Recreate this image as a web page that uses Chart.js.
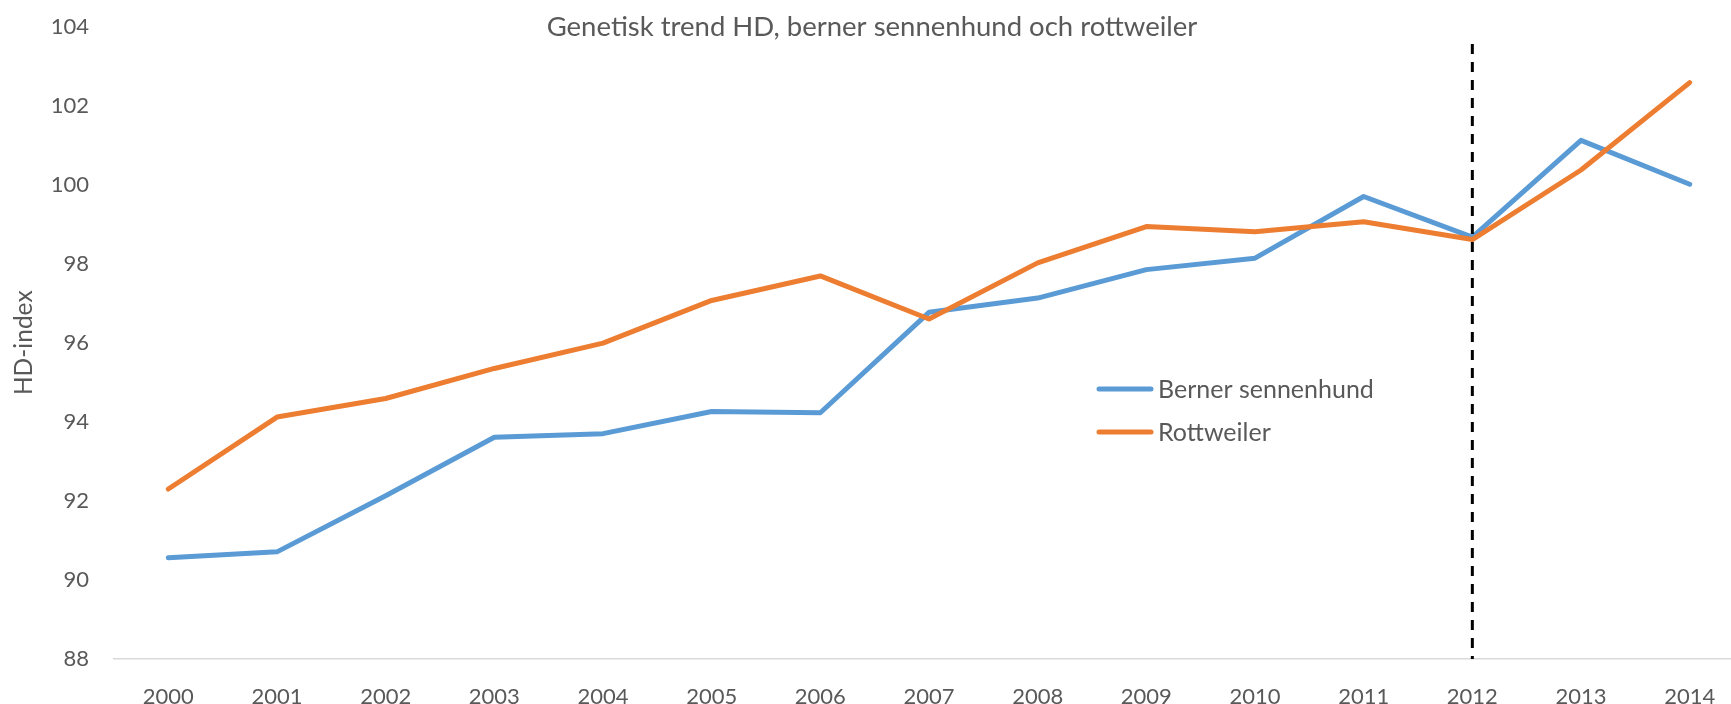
<!DOCTYPE html>
<html>
<head>
<meta charset="utf-8">
<script src="https://cdn.jsdelivr.net/npm/chart.js@4"></script>
<style>
  html, body { margin: 0; padding: 0; background: #ffffff; overflow: hidden; }
  #wrap { position: absolute; left: 0; top: 0; width: 1745px; height: 720px; }
  canvas { display: block; }
</style>
</head>
<body>
<div id="wrap"><canvas id="c" width="1745" height="720" style="width:1745px;height:720px"></canvas></div>
<script>
const chartTitle = 'Genetisk trend HD, berner sennenhund och rottweiler';
const yAxisTitle = 'HD-index';
const years = ['2000','2001','2002','2003','2004','2005','2006','2007','2008','2009','2010','2011','2012','2013','2014'];
const bernerLabel = 'Berner sennenhund';
const bernerValues = [90.56, 90.71, 92.13, 93.61, 93.70, 94.26, 94.23, 96.77, 97.13, 97.85, 98.14, 99.70, 98.67, 101.12, 100.01];
const rottweilerLabel = 'Rottweiler';
const rottweilerValues = [92.30, 94.12, 94.59, 95.35, 95.99, 97.07, 97.69, 96.60, 98.02, 98.94, 98.81, 99.06, 98.61, 100.37, 102.58];
const yTicks = [88, 90, 92, 94, 96, 98, 100, 102, 104];
const markerYear = '2012';
const markerRange = [103.56, 88];

const TEXT = '#595959';
const FONT = 'Lato, "Open Sans", sans-serif';

const overlayPlugin = {
  id: 'overlay',
  afterDraw(chart) {
    const ctx = chart.ctx;
    ctx.save();
    // title
    ctx.fillStyle = TEXT;
    ctx.font = '27.5px ' + FONT;
    ctx.textAlign = 'center';
    ctx.textBaseline = 'middle';
    ctx.fillText(chartTitle, 872, 27);
    // legend
    const items = chart.data.datasets.filter(d => d.inLegend);
    ctx.font = '25px ' + FONT;
    ctx.textAlign = 'left';
    items.forEach((d, i) => {
      const y = 389 + i * 43;
      ctx.strokeStyle = d.borderColor;
      ctx.lineWidth = 5;
      ctx.lineCap = 'round';
      ctx.beginPath();
      ctx.moveTo(1099, y);
      ctx.lineTo(1151, y);
      ctx.stroke();
      ctx.fillStyle = TEXT;
      ctx.fillText(d.label, 1158, y + 1);
    });
    ctx.restore();
  }
};

new Chart(document.getElementById('c'), {
  type: 'line',
  data: {
    labels: years,
    datasets: [
      {
        label: bernerLabel, inLegend: true, data: bernerValues,
        borderColor: '#5B9BD5', borderWidth: 5, pointRadius: 0,
        borderCapStyle: 'round', borderJoinStyle: 'round', tension: 0, order: 3
      },
      {
        label: rottweilerLabel, inLegend: true, data: rottweilerValues,
        borderColor: '#ED7D31', borderWidth: 5, pointRadius: 0,
        borderCapStyle: 'round', borderJoinStyle: 'round', tension: 0, order: 2
      },
      {
        label: 'marker', inLegend: false,
        data: markerRange.map(v => ({ x: markerYear, y: v })),
        borderColor: '#000000', borderWidth: 3, borderDash: [10, 8], pointRadius: 0,
        borderCapStyle: 'butt', order: 1
      }
    ]
  },
  options: {
    responsive: false,
    animation: false,
    devicePixelRatio: 1,
    layout: { padding: { top: 26.5, right: 1, left: 0, bottom: 0 } },
    plugins: {
      legend: { display: false },
      title: { display: false },
      tooltip: { enabled: false }
    },
    scales: {
      x: {
        type: 'category',
        offset: true,
        grid: { display: false, drawTicks: false },
        border: { display: true, color: '#D9D9D9', width: 1.5 },
        ticks: { color: TEXT, font: { family: FONT, size: 22 }, padding: 25, maxRotation: 0, autoSkip: false },
        afterFit(scale) { scale.height = 61; scale.paddingLeft = 0; scale.paddingRight = 0; }
      },
      y: {
        min: yTicks[0],
        max: yTicks[yTicks.length - 1],
        afterBuildTicks(scale) { scale.ticks = yTicks.map(v => ({ value: v })); },
        grid: { display: false, drawTicks: false },
        border: { display: false },
        ticks: { color: TEXT, font: { family: FONT, size: 22 }, padding: 25 },
        title: { display: true, text: yAxisTitle, color: TEXT, font: { family: FONT, size: 24.5 }, padding: { top: 9, bottom: 0 } },
        afterFit(scale) { scale.width = 114; scale.paddingTop = 0; scale.paddingBottom = 0; }
      }
    }
  },
  plugins: [overlayPlugin]
});
</script>
</body>
</html>
